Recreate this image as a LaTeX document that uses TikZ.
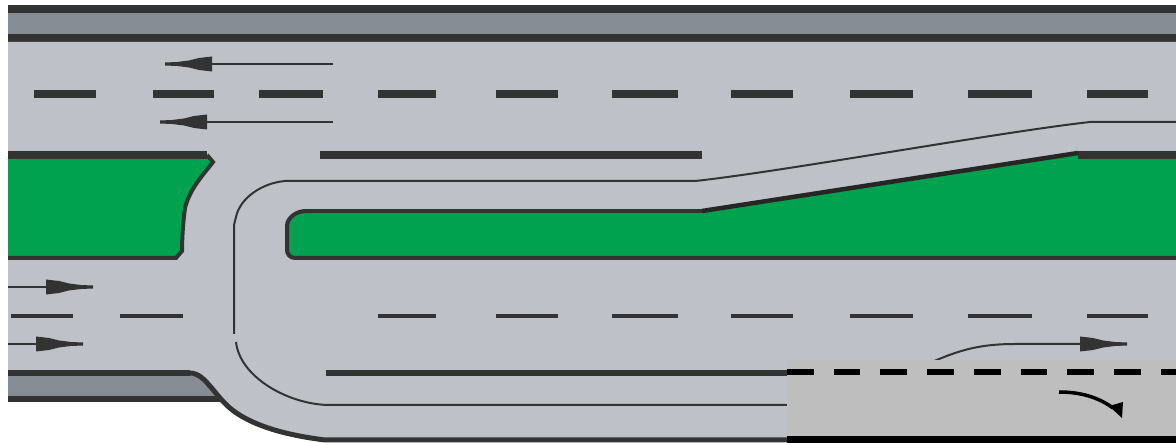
\documentclass[tikz,border=0pt]{standalone}
\usetikzlibrary{calc}

\definecolor{roadgray}{HTML}{BFC1C9}
\definecolor{shouldergray}{HTML}{878D94}
\definecolor{linedark}{HTML}{333333}
\definecolor{verge}{HTML}{00A14F}
\definecolor{patchgray}{HTML}{BEBEBE}

\tikzset{
    kerbline/.style={draw=linedark, line width=4pt},
    laneline/.style={draw=linedark, line width=2pt},
    headfill/.style={fill=linedark},
}

\begin{document}
\begin{tikzpicture}[x=1pt, y=-1pt]
    \useasboundingbox (0,0) rectangle (1176,443);

    % Key points of the road edge
    \coordinate (R1) at (8,42); \coordinate (R2) at (1176,42); \coordinate (R3) at (1176,440);
    \coordinate (R4) at (325,440); \coordinate (R5) at (190,373); \coordinate (R6) at (8,373);

    % Key points of the central islands
    \coordinate (A1) at (8,155); \coordinate (A2) at (207,155); \coordinate (A3) at (8,258);
    \coordinate (B1) at (306,211); \coordinate (B2) at (702,211); \coordinate (B3) at (1078,153);
    \coordinate (B4) at (1176,155); \coordinate (B5) at (1176,258); \coordinate (B6) at (295,258);

    % 1. Shoulders
    \fill[shouldergray] (8,13) rectangle (1176,34);
    \fill[linedark] (8,5) rectangle (1176,13);
    \fill[linedark] (8,34) rectangle (1176,42);

    \fill[shouldergray] (8,375) rectangle (222,397);

    % 2. Road surface
    \fill[roadgray] (R1) -- (R2) -- (R3) -- (R4)
        .. controls (285,435) and (255,426) .. (235,412)
        .. controls (215,398) and (206,373) .. (R5) -- (R6) -- cycle;
    \draw[linedark, line width=6pt] (8,399.5) -- (220,399.5);
    \draw[linedark, line width=6pt] (R6) -- (R5);
    \draw[linedark, line width=5pt] (R5)
        .. controls (206,373) and (215,398) .. (235,412)
        .. controls (255,426) and (285,435) .. (R4) -- (R3);

    % 3. Left island
    \fill[verge] (A1) -- (A2) -- (213,162)
        .. controls (204,174) and (190,188) .. (185,208)
        .. controls (183,222) and (182,240) .. (182,251)
        -- (176,258) -- (A3) -- cycle;
    \draw[linedark, line width=8pt] (A1) -- (A2);
    \draw[kerbline] (A2) -- (213,162)
        .. controls (204,174) and (190,188) .. (185,208)
        .. controls (183,222) and (182,240) .. (182,251)
        -- (176,258) -- (A3);

    % 4. Long island
    \fill[verge] (B1) -- (B2) -- (B3) -- (B4) -- (B5) -- (B6)
        .. controls (290,258) and (287,254) .. (287,250) -- (287,226)
        .. controls (287,218) and (296,211) .. (B1) -- cycle;
    \draw[linedark, line width=8pt] (1078,155) -- (B4);
    \draw[kerbline] (B1) -- (B2);
    \draw[draw=black!85, line width=4.5pt] (B2) -- (B3);
    \draw[kerbline] (B5) -- (B6)
        .. controls (290,258) and (287,254) .. (287,250) -- (287,226)
        .. controls (287,218) and (296,211) .. (B1);

    % 5. Lane dashes
    \foreach \x/\w in {34/62,153/61,259/64,378/58,496/62,612/66,731/62,850/63,968/64,1087/61} {
        \fill[linedark] (\x,90) rectangle ++(\w,8);
    }
    \foreach \x/\w in {11/62,120/63,378/58,496/62,612/66,731/62,850/63,968/64,1087/61} {
        \draw[laneline, line width=3.5pt] (\x,316) -- ++(\w,0);
    }

    % 6. Solid edge lines
    \draw[linedark, line width=8pt] (320,155) -- (702,155);
    \draw[linedark, line width=6pt] (326,373) -- (800,373);

    % 7. Thin guide lines
    \draw[laneline] (285,181) -- (695,181)
        .. controls (780,172) and (1000,132) .. (1090,122) -- (1176,122);
    \draw[laneline] (285,181) .. controls (262,183) and (240,198) .. (236,217) -- (234,225) -- (234,334);
    \draw[laneline] (236,342) .. controls (240,378) and (290,405) .. (330,405) -- (800,405);
    \draw[laneline] (925,365) .. controls (955,352) and (975,344) .. (1015,344) -- (1085,344);

    % 8. Lane arrows
    \draw[laneline] (333,64) -- (190,64);
    \draw[laneline] (333,122) -- (190,122);
    \draw[laneline] (8,287) -- (60,287);
    \draw[laneline] (8,344) -- (50,344);
    \foreach \x/\y/\s in {165/64/-1,160/122/-1,93/287/1,83/344/1,1127/344/1} {
        \begin{scope}[shift={(\x,\y)}, xscale=\s]
            \fill[headfill] (0,-1.5) -- (-12,-2) -- (-24,-3.5) -- (-34,-6) -- (-47,-7.5) -- (-47,7.5) -- (-34,6) -- (-24,3.5) -- (-12,2) -- (0,1.5) -- cycle;
        \end{scope}
    }

    % 9. Patch over the lower right corner
    \fill[patchgray] (787,360) rectangle (1176,443);
    \foreach \x in {787,833.7,...,1170} {
        \fill[black] (\x,369) rectangle ++(26.7,6.5);
    }
    \fill[black] (787,436) rectangle (1176,443);
    \draw[black, line width=3.5pt] (1059,392) .. controls (1080,392) and (1098,397) .. (1113,408);
    \fill[black] (1123,402) -- (1122,418) -- (1109,406) -- cycle;

\end{tikzpicture}
\end{document}
